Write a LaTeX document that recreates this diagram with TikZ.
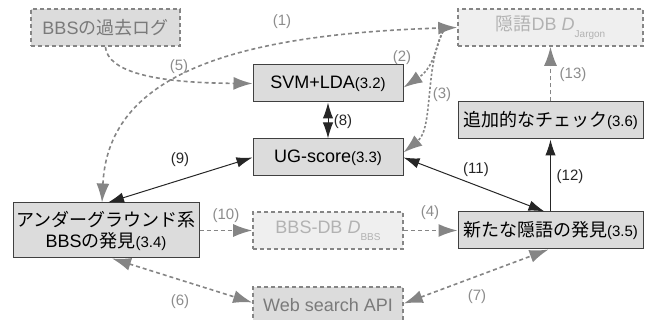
\documentclass[tikz,border=0pt]{standalone}
\usepackage{fontspec}
\setmainfont{Liberation Sans}
\newfontfamily\jp{Noto Sans CJK JP}
\usetikzlibrary{arrows.meta}

\definecolor{boxgray}{HTML}{DCDCDC}
\definecolor{dbgray}{HTML}{EFEFEF}
\definecolor{linegray}{HTML}{858585}
\definecolor{dbtext}{HTML}{B2B2B2}
\definecolor{logtext}{HTML}{7A7A7A}
\definecolor{labgray}{HTML}{8C8C8C}

\newcommand{\secno}[1]{{\fontsize{7.5}{9}\selectfont(#1)}}
\newcommand{\subidx}[1]{\raisebox{-3.5pt}{\fontsize{5}{6}\selectfont #1}}

\tikzset{
  btip/.tip={Latex[length=8pt,width=5.2pt]},
  gtip/.tip={Latex[length=9.5pt,width=6.5pt]},
  proc/.style={draw=black!75,fill=boxgray,line width=0.5pt,minimum height=18.5pt,
    inner sep=1pt,align=center,font=\fontsize{9}{10.5}\selectfont},
  store/.style={proc,draw=linegray,line width=0.8pt,dash pattern=on 2pt off 1.5pt},
  blink/.style={draw=black!85,line width=0.5pt},
  glink/.style={draw=linegray,line width=0.8pt,dash pattern=on 2pt off 1.5pt},
  dlink/.style={draw=linegray,line width=0.8pt,dash pattern=on 1.2pt off 1pt},
  blab/.style={font=\fontsize{7.5}{9}\selectfont,text=black!85,inner sep=0pt},
  glab/.style={blab,text=labgray}
}

\begin{document}
\begin{tikzpicture}[x=0.5pt,y=-0.5pt]
\useasboundingbox (0,0) rectangle (654,320);

% boxes
\node[store,minimum width=74.5pt,text=logtext] (log) at (105.5,27.5) {BBS{\jp の過去ログ}};
\node[store,minimum width=92.5pt,fill=dbgray,text=dbtext] (jargon) at (550.5,27.5) {{\jp 隠語}DB \textit{D}\subidx{Jargon}};
\node[proc,minimum width=75pt] (svm) at (328,83.5) {SVM+LDA\secno{3.2}};
\node[proc,minimum width=75pt] (ug) at (328,157.5) {UG-score\secno{3.3}};
\node[proc,minimum width=92.5pt] (check) at (550.5,120.5) {{\jp 追加的なチェック}\secno{3.6}};
\node[proc,minimum width=93pt,minimum height=27.5pt] (ugbbs) at (106,230.5) {{\jp アンダーグラウンド系}\\BBS{\jp の発見}\secno{3.4}};
\node[store,minimum width=75pt,fill=dbgray,text=dbtext] (bbsdb) at (328,230.5) {BBS-DB \textit{D}\subidx{BBS}};
\node[proc,minimum width=92.5pt] (newj) at (550.5,230.5) {{\jp 新たな隠語の発見}\secno{3.5}};
\node[store,minimum width=75pt,text=logtext] (api) at (328,305.5) {Web search API};

% gray links
\draw[glink,-gtip] (log.south) .. controls (108,78) and (180,83) .. (svm.west);
\draw[dlink,-gtip] ([xshift=-6pt]jargon.west) .. controls (436,42) and (436,66) .. ([yshift=-2pt]svm.east);
\draw[dlink,-gtip] ([xshift=-6pt]jargon.west) .. controls (424,62) and (434,128) .. ([yshift=2.5pt]ug.east);
\draw[glink,gtip-gtip] ([xshift=-2pt]ugbbs.north) .. controls (108,80) and (220,35) .. (jargon.west);
\draw[glink,-gtip] (ugbbs.east) -- (bbsdb.west);
\draw[glink,-gtip] (bbsdb.east) -- (newj.west);
\draw[glink,gtip-gtip] ([xshift=3pt]ugbbs.south) -- ([yshift=1.5pt]api.west);
\draw[glink,gtip-gtip] ([yshift=1pt]api.east) -- ([xshift=-1pt]newj.south);
\draw[glink,-gtip] (check.north) -- (jargon.south);

% black links
\draw[blink,btip-btip] (svm.south) -- (ug.north);
\draw[blink,btip-btip] ([xshift=1pt]ugbbs.north) -- (ug.west);
\draw[blink,btip-btip] (ug.east) -- ([xshift=-3pt]newj.north);
\draw[blink,-btip] (newj.north) -- (check.south);

% labels
\node[glab] (n1) at (282,22) {(1)};
\node[glab] (n2) at (402,58) {(2)};
\node[glab] (n3) at (442,95) {(3)};
\node[glab] (n4) at (430,213) {(4)};
\node[glab] (n5) at (179,67) {(5)};
\node[glab] (n6) at (180,302) {(6)};
\node[glab] (n7) at (477,297) {(7)};
\node[blab] (n8) at (343,122) {(8)};
\node[blab] (n9) at (180,160) {(9)};
\node[glab] (n10) at (226,216) {(10)};
\node[blab] (n11) at (476,170) {(11)};
\node[blab] (n12) at (570,177) {(12)};
\node[glab] (n13) at (573,75) {(13)};
\end{tikzpicture}
\end{document}
